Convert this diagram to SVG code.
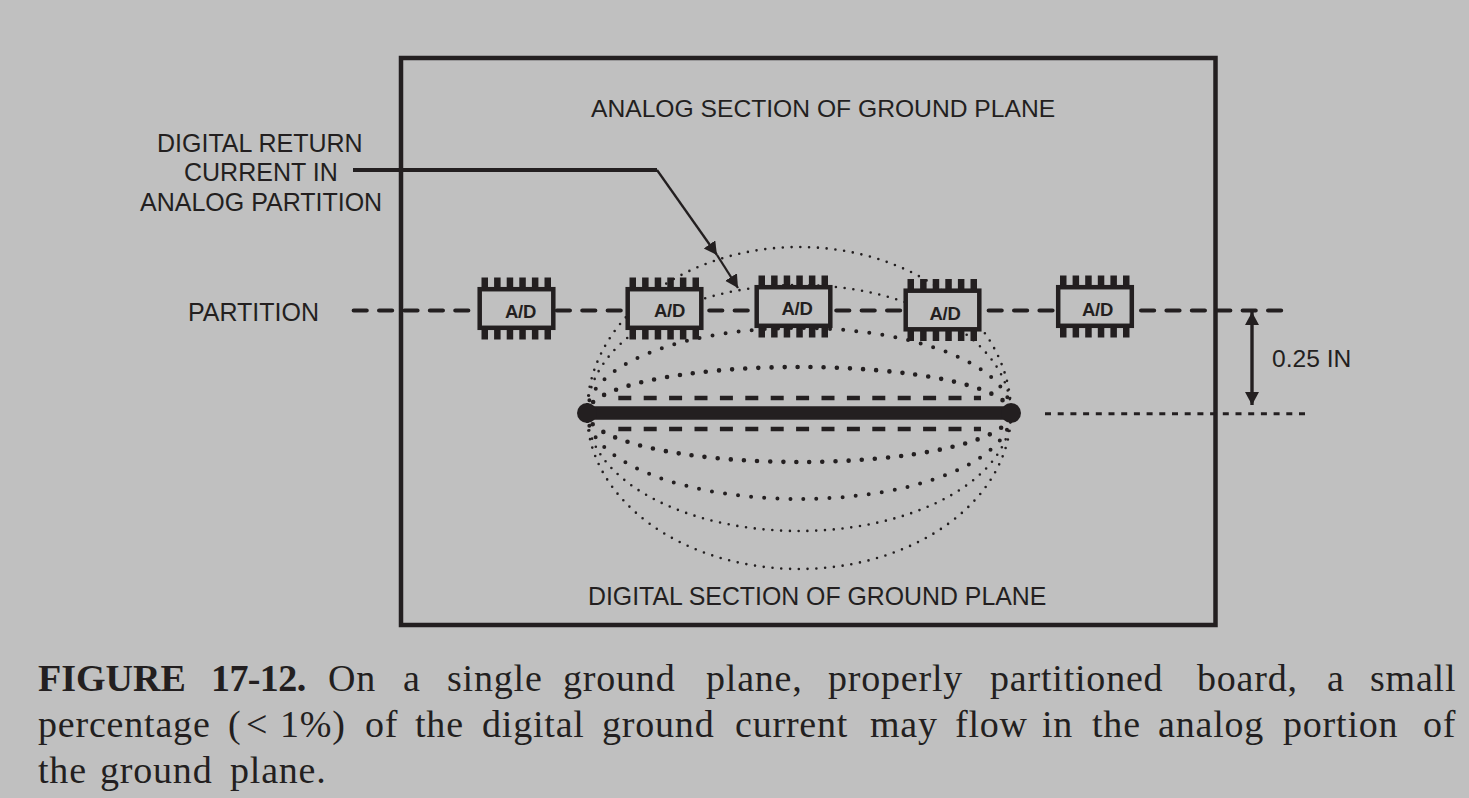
<svg xmlns="http://www.w3.org/2000/svg" width="1469" height="798" viewBox="0 0 1469 798">
<style>
text{font-family:"Liberation Sans",Arial,sans-serif;fill:#231f20}
.lab{font-size:25px}
.ad{font-size:18.5px;font-weight:bold;letter-spacing:-0.3px}
.cap{font-family:"Liberation Serif","Times New Roman",serif;font-size:38px;letter-spacing:0.8px}
.capb{font-weight:bold;letter-spacing:0}
.capn{font-weight:bold;letter-spacing:-0.6px}
.dot{fill:none;stroke:#231f20;stroke-linecap:round}
.d1{stroke-width:2.6;stroke-dasharray:0 8.8}
.d2{stroke-width:4;stroke-dasharray:0 13.1}
.d3{stroke-width:4.6;stroke-dasharray:0 13.1}
.ln{fill:none;stroke:#231f20}
.box{fill:#c0c0c0;stroke:#231f20;stroke-width:4.5}
.pin{fill:#231f20}
</style>
<defs>
<marker id="ah" markerUnits="userSpaceOnUse" markerWidth="15" markerHeight="15" refX="13" refY="7" orient="auto"><path d="M0 0L13 7L0 14Z" fill="#231f20"/></marker>
<marker id="ahs" markerUnits="userSpaceOnUse" markerWidth="15" markerHeight="15" refX="1" refY="7" orient="auto"><path d="M14 0L1 7L14 14Z" fill="#231f20"/></marker>
<g id="chip">
<path class="pin" d="M4-9.5h6.5v10h-6.5zM16.6-9.5h6.5v10h-6.5zM29.2-9.5h6.5v10h-6.5zM41.8-9.5h6.5v10h-6.5zM54.4-9.5h6.5v10h-6.5zM67-9.5h6.5v10h-6.5zM4 42.5h6.5v10h-6.5zM16.6 42.5h6.5v10h-6.5zM29.2 42.5h6.5v10h-6.5zM41.8 42.5h6.5v10h-6.5zM54.4 42.5h6.5v10h-6.5zM67 42.5h6.5v10h-6.5z"/>
<rect class="box" x="2.2" y="2.2" width="73.6" height="38.6"/>
</g>
</defs>
<rect width="1469" height="798" fill="#c0c0c0"/>
<g id="connectors">
<rect id="frame" class="ln" x="401" y="58" width="814.5" height="567" stroke-width="4.5"/>
<path class="ln" stroke-width="4.2" stroke-linecap="round" stroke-dasharray="13 12.4" d="M353.7 310.5H1284"/>
<path class="ln" stroke-width="3" stroke-dasharray="6 6.7" d="M1045 413.7H1305"/>
<path class="ln" stroke-width="3.4" marker-start="url(#ahs)" marker-end="url(#ah)" d="M1252 312V405"/>
<path class="ln" stroke-width="4" d="M353 170H657"/>
<path class="ln" stroke-width="2.3" marker-end="url(#ah)" d="M657 170L717 255"/>
<path class="ln" stroke-width="2.3" marker-end="url(#ah)" d="M717 255L738 288"/>
<path class="dot d1" d="M587 413A212 166 0 0 1 1011 413"/>
<path class="dot d1" d="M587 413A212 128 0 0 1 1011 413"/>
<path class="dot d2" d="M587 413A212 85 0 0 1 1011 413"/>
<path class="dot d3" d="M587 413A212 46 0 0 1 1011 413"/>
<path class="dot d3" d="M587 413A212 49 0 0 0 1011 413"/>
<path class="dot d2" d="M587 413A212 86 0 0 0 1011 413"/>
<path class="dot d1" d="M587 413A212 118 0 0 0 1011 413"/>
<path class="dot d1" d="M587 413A212 156 0 0 0 1011 413"/>
<path class="ln" stroke-width="4.4" stroke-dasharray="13 12.4" d="M618.3 398H981"/>
<path class="ln" stroke-width="4.4" stroke-dasharray="13 12.4" d="M618.3 429H981"/>
<path class="ln" stroke-width="13.5" d="M587 413H1011"/>
<circle class="pin" cx="587" cy="413" r="10"/>
<circle class="pin" cx="1011" cy="413" r="10"/>
</g>
<g id="ad1" transform="translate(477.5 287)"><use href="#chip"/><text class="ad" x="27.5" y="31">A/D</text></g>
<g id="ad2" transform="translate(625.5 287)"><use href="#chip"/><text class="ad" x="28.5" y="29.7">A/D</text></g>
<g id="ad3" transform="translate(754.5 285)"><use href="#chip"/><text class="ad" x="27" y="30">A/D</text></g>
<g id="ad4" transform="translate(903.5 288.5)"><use href="#chip"/><text class="ad" x="26" y="31.5">A/D</text></g>
<g id="ad5" transform="translate(1056 285)"><use href="#chip"/><text class="ad" x="26" y="31">A/D</text></g>
<g id="labels">
<text class="lab" x="591" y="117" style="font-size:24.65px">ANALOG SECTION OF GROUND PLANE</text>
<text class="lab" x="588" y="605" style="font-size:24.85px">DIGITAL SECTION OF GROUND PLANE</text>
<text class="lab" x="157" y="152">DIGITAL RETURN</text>
<text class="lab" x="184" y="181">CURRENT IN</text>
<text class="lab" x="140" y="211">ANALOG PARTITION</text>
<text class="lab" x="188" y="321">PARTITION</text>
<text class="lab" x="1272" y="367" style="font-size:24.6px">0.25 IN</text>
</g>
<g id="caption">
<text class="cap" y="691"><tspan class="capb" x="38">FIGURE </tspan><tspan class="capn" x="211">17-12. </tspan><tspan x="328">On </tspan><tspan x="403">a </tspan><tspan x="447">single </tspan><tspan x="563">ground </tspan><tspan x="706">plane, </tspan><tspan x="828">properly </tspan><tspan x="990">partitioned </tspan><tspan x="1197">board, </tspan><tspan x="1327">a </tspan><tspan x="1370">small</tspan></text>
<text class="cap" y="737"><tspan x="38">percentage </tspan><tspan x="228">(</tspan><tspan x="246">&lt;</tspan><tspan x="280">1%) </tspan><tspan x="365">of </tspan><tspan x="415">the </tspan><tspan x="482">digital </tspan><tspan x="602">ground </tspan><tspan x="735">current </tspan><tspan x="870">may </tspan><tspan x="955">flow </tspan><tspan x="1042">in </tspan><tspan x="1092">the </tspan><tspan x="1158">analog </tspan><tspan x="1283">portion </tspan><tspan x="1423">of</tspan></text>
<text class="cap" y="783"><tspan x="38">the </tspan><tspan x="100">ground </tspan><tspan x="230">plane.</tspan></text>
</g>
</svg>
